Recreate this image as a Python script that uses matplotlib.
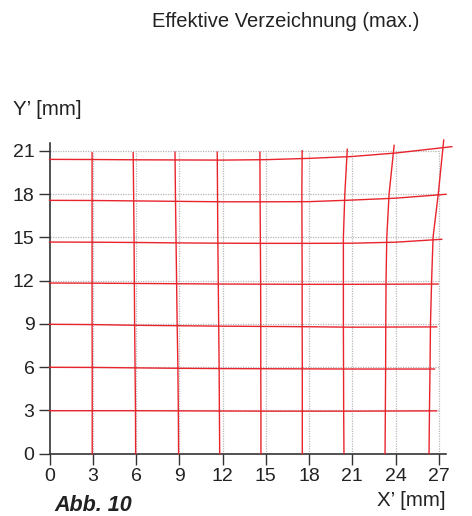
import matplotlib
matplotlib.use('Agg')
import matplotlib.pyplot as plt

plt.rcParams['font.family'] = ['Liberation Sans', 'DejaVu Sans']

# Achsen-Ticks
ticks_x = [0, 3, 6, 9, 12, 15, 18, 21, 24, 27]
ticks_y = [0, 3, 6, 9, 12, 15, 18, 21]

# horizontale Linien: y-Werte bei x = 0, 3, ..., 24 und am Linienende
h_x = [0, 3, 6, 9, 12, 15, 18, 21, 24]
h_end_x = [26.85, 26.7, 26.85, 26.95, 27.2, 27.5, 27.9]
h_y = [
    [2.98, 2.98, 2.98, 2.97, 2.96, 2.95, 2.95, 2.95, 2.96, 2.97],
    [5.99, 5.98, 5.95, 5.92, 5.90, 5.89, 5.88, 5.87, 5.87, 5.87],
    [8.97, 8.95, 8.90, 8.87, 8.84, 8.82, 8.80, 8.77, 8.78, 8.79],
    [11.83, 11.82, 11.80, 11.78, 11.76, 11.75, 11.74, 11.74, 11.75, 11.76],
    [14.67, 14.66, 14.64, 14.61, 14.59, 14.58, 14.58, 14.59, 14.66, 14.86],
    [17.56, 17.55, 17.52, 17.49, 17.46, 17.46, 17.47, 17.58, 17.71, 17.98],
    [20.40, 20.39, 20.37, 20.36, 20.35, 20.38, 20.47, 20.60, 20.84, 21.28],
]

# vertikale Linien: x-Werte bei y = 0, 3, ..., 18 und am Linienende
v_y = [0, 3, 6, 9, 12, 15, 18]
v_end_y = [20.86, 20.86, 20.9, 20.9, 20.9, 21.0, 21.1, 21.37, 21.74]
v_x = [
    [2.96, 2.96, 2.96, 2.95, 2.95, 2.95, 2.95, 2.95],
    [5.97, 5.96, 5.93, 5.90, 5.88, 5.86, 5.83, 5.80],
    [8.95, 8.93, 8.90, 8.85, 8.81, 8.77, 8.73, 8.70],
    [11.80, 11.78, 11.76, 11.73, 11.70, 11.67, 11.65, 11.63],
    [14.66, 14.66, 14.65, 14.65, 14.64, 14.62, 14.60, 14.59],
    [17.53, 17.53, 17.53, 17.52, 17.52, 17.51, 17.50, 17.52],
    [20.42, 20.40, 20.39, 20.38, 20.38, 20.38, 20.48, 20.65],
    [23.27, 23.29, 23.31, 23.32, 23.34, 23.39, 23.55, 23.90],
    [26.32, 26.35, 26.39, 26.42, 26.50, 26.60, 26.96, 27.34],
]

red = '#e8242c'
ink = '#222222'

fig = plt.figure(figsize=(4.72, 5.16), dpi=100)
ax = fig.add_axes([0.105, 0.1207, 0.840, 0.6012])
ax.set_xlim(0, 27.5)
ax.set_ylim(0, 21.5)

# Raster
for t in ticks_x[1:]:
    ax.plot([t, t], [0, 21], color='#b8b8b8', lw=0.9, ls=(0, (1, 1)), zorder=1)
for t in ticks_y[1:]:
    ax.plot([0, 27], [t, t], color='#b8b8b8', lw=0.9, ls=(0, (1, 1)), zorder=1)

# Verzeichnungsgitter
for ys, xe in zip(h_y, h_end_x):
    ax.plot(h_x + [xe], ys, color=red, lw=1.0, clip_on=False, zorder=3)
for xs, ye in zip(v_x, v_end_y):
    ax.plot(xs, v_y + [ye], color=red, lw=1.0, clip_on=False, zorder=3)

for s in ['top', 'right']:
    ax.spines[s].set_visible(False)
for s in ['left', 'bottom']:
    ax.spines[s].set_color('#333333')
    ax.spines[s].set_linewidth(1.2)

ax.set_xticks(ticks_x)
ax.set_yticks(ticks_y)
ax.tick_params(axis='both', length=7.7, width=1.0, color='#333333',
               labelsize=14, labelcolor=ink)
ax.tick_params(axis='x', pad=2.5)
ax.tick_params(axis='y', pad=3.2)

fig.text(0.605, 0.958, 'Effektive Verzeichnung (max.)', ha='center', va='center',
         fontsize=14.5, color=ink)
fig.text(0.027, 0.787, 'Y\u2019 [mm]', ha='left', va='center', fontsize=14.8, color=ink)
fig.text(0.945, 0.031, 'X\u2019 [mm]', ha='right', va='center', fontsize=14.8, color=ink)
fig.text(0.116, 0.021, 'Abb. 10', ha='left', va='center', fontsize=15.5,
         fontweight='bold', fontstyle='italic', color=ink)

fig.savefig('out.png', dpi=100)
